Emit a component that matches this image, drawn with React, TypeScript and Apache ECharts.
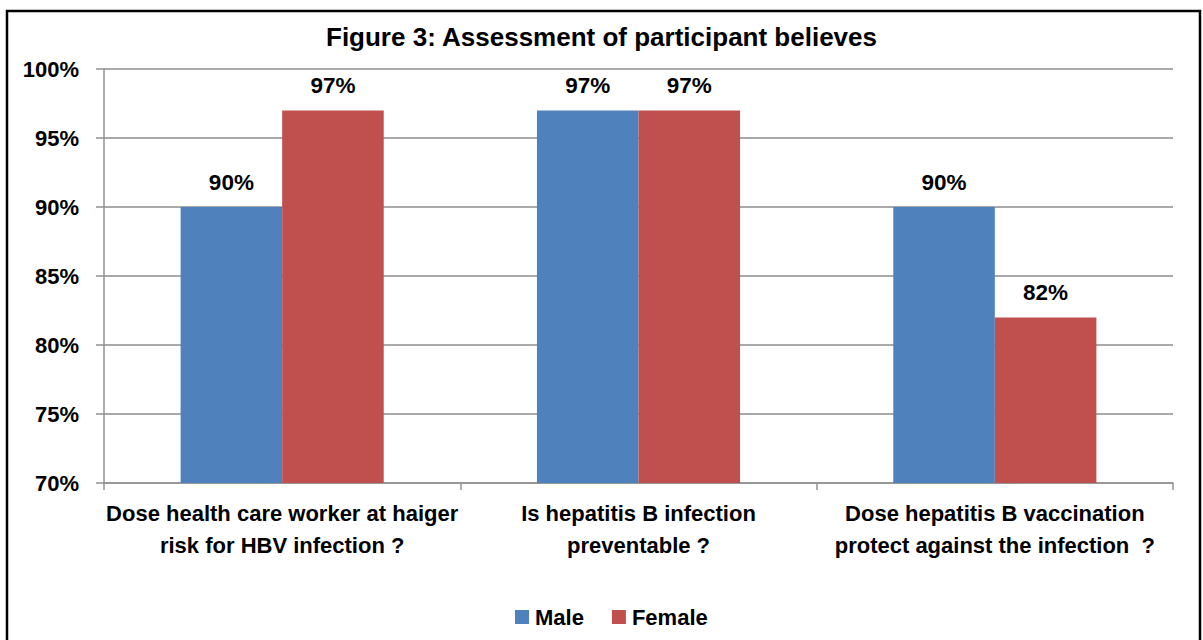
import React, { useEffect, useRef } from "react";
import * as echarts from "echarts";

const categories = [
  "Dose health care worker at haiger\nrisk for HBV infection ?",
  "Is hepatitis B infection\npreventable ?",
  "Dose hepatitis B vaccination\nprotect against the infection  ?",
];
const maleValues = [90, 97, 90];
const femaleValues = [97, 97, 82];
const seriesNames = ["Male", "Female"];
const titleText = "Figure 3: Assessment of participant believes";

const FONT = '"Liberation Sans Narrow", "Arial Narrow", "Liberation Sans", Arial, sans-serif';

export default function App() {
  const ref = useRef<HTMLDivElement>(null);
  useEffect(() => {
    if (!ref.current) return;
    const chart = echarts.init(ref.current, undefined, { renderer: "svg" });
    const labelStyle = {
      show: true,
      position: "top" as const,
      distance: 13,
      formatter: "{c}%",
      fontFamily: FONT,
      fontWeight: "bold" as const,
      fontSize: 22.5,
      color: "#000",
    };
    chart.setOption({
      animation: false,
      backgroundColor: "#fff",
      textStyle: { fontFamily: FONT },
      title: {
        text: titleText,
        left: "center",
        top: 19,
        textStyle: { fontFamily: FONT, fontWeight: "bold", fontSize: 26, color: "#000" },
      },
      graphic: [
        {
          type: "rect",
          shape: { x: 7, y: 11, width: 1193, height: 700 },
          style: { fill: "none", stroke: "#000", lineWidth: 2.5 },
          silent: true,
        },
      ],
      legend: {
        data: seriesNames,
        bottom: 7,
        left: 510,
        itemWidth: 14,
        itemHeight: 14,
        itemGap: 28,
        icon: "rect",
        textStyle: { fontFamily: FONT, fontWeight: "bold", fontSize: 22, color: "#000", padding: [0, 0, 0, 1] },
      },
      grid: { left: 104, right: 30, top: 69, bottom: 157, containLabel: false },
      xAxis: {
        type: "category",
        data: categories,
        axisLine: { lineStyle: { color: "#929292", width: 1.5 } },
        axisTick: { show: true, length: 7, interval: 0, lineStyle: { color: "#929292", width: 1.5 } },
        axisLabel: {
          interval: 0,
          margin: 14,
          fontFamily: FONT,
          fontWeight: "bold",
          fontSize: 22,
          lineHeight: 32,
          color: "#000",
        },
      },
      yAxis: {
        type: "value",
        min: 70,
        max: 100,
        interval: 5,
        axisLine: { show: true, lineStyle: { color: "#929292", width: 1.5 } },
        axisTick: { show: true, length: 8, lineStyle: { color: "#929292", width: 1.5 } },
        splitLine: { lineStyle: { color: "#8c8c8c", width: 1.5 } },
        axisLabel: {
          formatter: "{value}%",
          margin: 25,
          fontFamily: FONT,
          fontWeight: "bold",
          fontSize: 22,
          color: "#000",
        },
      },
      series: [
        {
          name: seriesNames[0],
          type: "bar",
          data: maleValues,
          barGap: "0%",
          barCategoryGap: "43%",
          itemStyle: { color: "#4F81BD" },
          label: labelStyle,
        },
        {
          name: seriesNames[1],
          type: "bar",
          data: femaleValues,
          barGap: "0%",
          barCategoryGap: "43%",
          itemStyle: { color: "#C0504D" },
          label: labelStyle,
        },
      ],
    });
    return () => chart.dispose();
  }, []);
  return (
    <div
      ref={ref}
      style={{ position: "fixed", left: 0, top: 0, width: 1203, height: 640 }}
    />
  );
}
